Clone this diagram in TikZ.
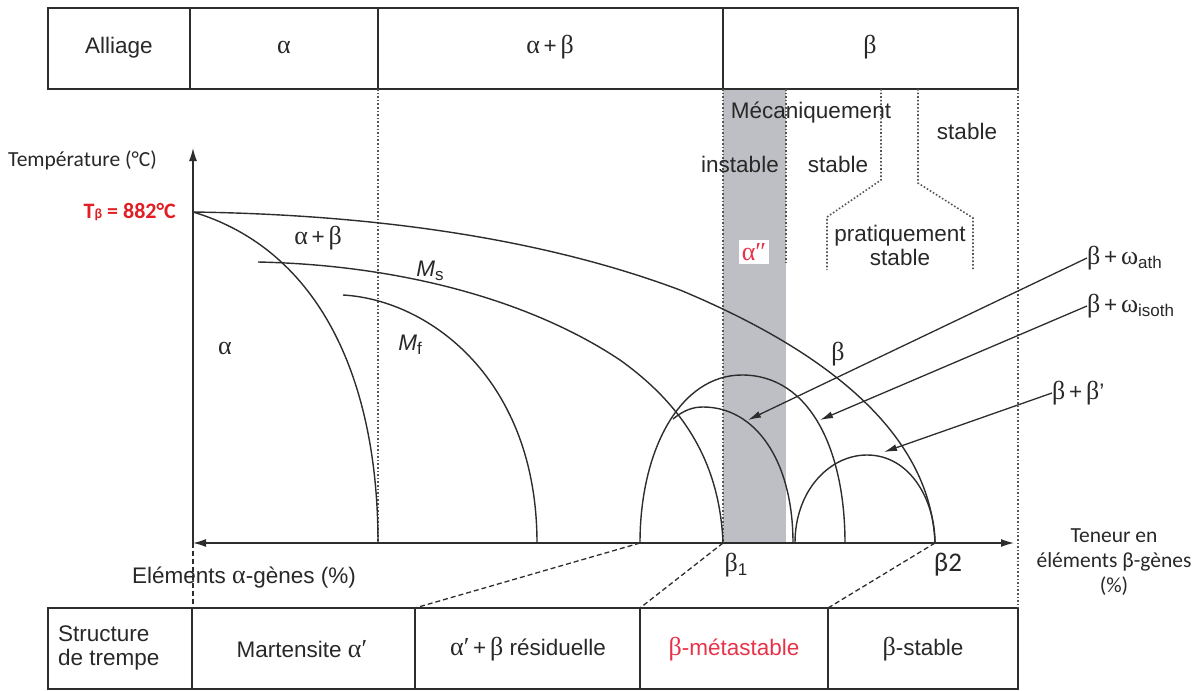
\documentclass[tikz,border=0pt]{standalone}
\usepackage{fontspec}
\setmainfont{Liberation Sans}
\newfontfamily\grk{Liberation Serif}
\newfontfamily\calfont{Carlito}
\usetikzlibrary{arrows.meta}
\definecolor{linec}{RGB}{45,45,45}
\definecolor{txtc}{RGB}{40,40,40}
\definecolor{dotc}{RGB}{85,85,85}
\definecolor{bandc}{RGB}{190,191,196}
\definecolor{redt}{RGB}{225,30,35}
\definecolor{redp}{RGB}{232,50,72}
\newcommand{\fs}{\fontsize{22.5}{26}\selectfont}
\newcommand{\gfs}{\fontsize{26}{26}\selectfont}
\newcommand{\sbx}[1]{\raisebox{-0.35ex}{\fontsize{17}{17}\selectfont #1}}
\newcommand{\ga}{{\grk\gfs α}}
\newcommand{\gb}{{\grk\gfs β}}
\begin{document}
\begin{tikzpicture}[x=1pt,y=-1pt,
  curve/.style={line width=1.4pt, draw=linec},
  tbl/.style={line width=1.5pt, draw=linec},
  dotl/.style={line width=1.6pt, dotted, draw=dotc},
  dashl/.style={line width=1.3pt, dash pattern=on 5pt off 3pt, draw=linec},
  axis/.style={line width=1.3pt, draw=linec},
  tip/.style={line width=1.3pt, draw=linec, -{Latex[length=13pt,width=7pt]}},
  lbl/.style={font=\fs, text=txtc, inner sep=0pt},
  clbl/.style={font=\calfont\fontsize{21.5}{25}\selectfont, text=txtc, inner sep=0pt, align=center},
]
\useasboundingbox (0,0) rectangle (1203,691);
% grey band
\fill[bandc] (723,89) rectangle (786,543);
% tables
\draw[tbl] (48,8) rectangle (1018,89);
\foreach \x in {190,378,723} \draw[tbl] (\x,8) -- (\x,89);
\draw[tbl] (48,608) rectangle (1018,689);
\foreach \x in {192,415,640,828} \draw[tbl] (\x,608) -- (\x,689);
% dotted verticals
\draw[dotl] (378,89) -- (378,543);
\draw[dotl] (723,89) -- (723,543);
\draw[dotl] (786,89) -- (786,265);
\draw[dotl] (881,89) -- (881,180) -- (827,217) -- (827,270);
\draw[dotl] (918,89) -- (918,183) -- (973,218) -- (973,270);
\draw[dotl] (1018,89) -- (1018,608);
% axes
\coordinate (O) at (193,543);
\coordinate (ytop) at (193,148);
\coordinate (xend) at (1014,543);
\draw[axis,-{Latex[length=13pt,width=8pt]}] (O) -- (ytop);
\draw[axis,{Latex[length=13pt,width=8pt]}-{Latex[length=13pt,width=8pt]}] (O) -- (xend);
% dashed links
\coordinate (b0) at (640,543);
\coordinate (b1) at (723,543);
\coordinate (b2) at (935,543);
\draw[dashl] (O) -- (193,608);
\draw[dashl] (b0) -- (415,608);
\draw[dashl] (b1) -- (640,608);
\draw[dashl] (b2) -- (828,608);
% curves
\draw[curve] (193,212) .. controls (400,215) and (560,245) .. (680,290)
  .. controls (800,340) and (930,420) .. (b2);
\draw[curve] (193,212) .. controls (320,250) and (378,380) .. (378,543);
\draw[curve] (258,262) .. controls (400,265) and (530,300) .. (620,360)
  .. controls (690,410) and (720,470) .. (b1);
\draw[curve] (343,295) .. controls (430,300) and (537,380) .. (537,543);
\draw[curve] (b0) .. controls (640,450) and (680,375) .. (742,375)
  .. controls (810,375) and (845,450) .. (845,543);
\draw[curve] (673,419) .. controls (684,410) and (693,407) .. (703,407)
  .. controls (755,407) and (793,460) .. (793,543);
\draw[curve] (795,543) .. controls (795,490) and (830,455) .. (867,455)
  .. controls (910,455) and (935,500) .. (b2);
% top table texts
\node[lbl] (tall) at (119,48) {Alliage};
\node[lbl] (ta) at (284,47) {\ga};
\node[lbl] (tab) at (550,47) {\ga\,{\fs +}\,\gb};
\node[lbl] (tb) at (870,47) {\gb};
% bottom table texts
\node[lbl, align=left, anchor=west] (bst) at (58,648) {Structure\\[-2pt]de trempe};
\node[lbl] (bmart) at (302,649) {Martensite \ga{\grk\gfs ′}};
\node[lbl] (bres) at (528,649) {\ga{\grk\gfs ′}\,+\,\gb\ résiduelle};
\node[lbl, text=redp] (bmeta) at (734,649) {{\grk\gfs β}-métastable};
\node[lbl] (bstab) at (923,649) {\gb-stable};
% axis labels
\node[clbl, anchor=west] (temp) at (8,160) {Température (°C)};
\node[clbl, text=redt, font=\calfont\bfseries\fontsize{22}{26}\selectfont, anchor=east] (tbeta) at (176,212) {T{\fontsize{14}{14}\selectfont β} = 882°C};
\node[lbl] (aleg) at (244,578) {Eléments \ga-gènes (\%)};
\node[clbl] (bleg) at (1114,562) {Teneur en\\éléments β-gènes\\(\%)};
\node[lbl] (beta1) at (736,565) {\gb\sbx{1}};
\node[lbl, font=\calfont\fontsize{27}{27}\selectfont] (beta2) at (948,565) {β2};
% region labels
\node[lbl] (ra) at (225,348) {\ga};
\node[lbl] (rab) at (318,238) {\ga\,{\fs +}\,\gb};
\node[lbl] (rms) at (430,271) {\textit{M}\sbx{s}};
\node[lbl] (rmf) at (410,345) {\textit{M}\sbx{f}};
\node[lbl] (rb) at (838,354) {\gb};
\node[lbl] (meca) at (811,113) {Mécaniquement};
\node[lbl] (inst) at (740,164) {instable};
\node[lbl] (st1) at (838,164) {stable};
\node[lbl] (st2) at (967,131) {stable};
\node[lbl, align=center] (prat) at (900,245) {pratiquement\\[-2pt]stable};
\node[lbl, fill=white, inner sep=3pt, text=redp] (app) at (754,252) {{\grk\gfs α″}};
% arrow labels
\node[lbl, anchor=west] (lath) at (1087,258) {\gb\,+\,{\grk\gfs ω}\sbx{ath}};
\node[lbl, anchor=west] (liso) at (1087,306) {\gb\,+\,{\grk\gfs ω}\sbx{isoth}};
\node[lbl, anchor=west] (lbp) at (1052,393) {\gb\,+\,{\grk\gfs β}'};
\coordinate (pa) at (748,420);
\coordinate (pi) at (820,420);
\coordinate (pb) at (884,452);
\draw[tip] (lath.west) -- (pa);
\draw[tip] (liso.west) -- (pi);
\draw[tip] (lbp.west) -- (pb);
\end{tikzpicture}
\end{document}
